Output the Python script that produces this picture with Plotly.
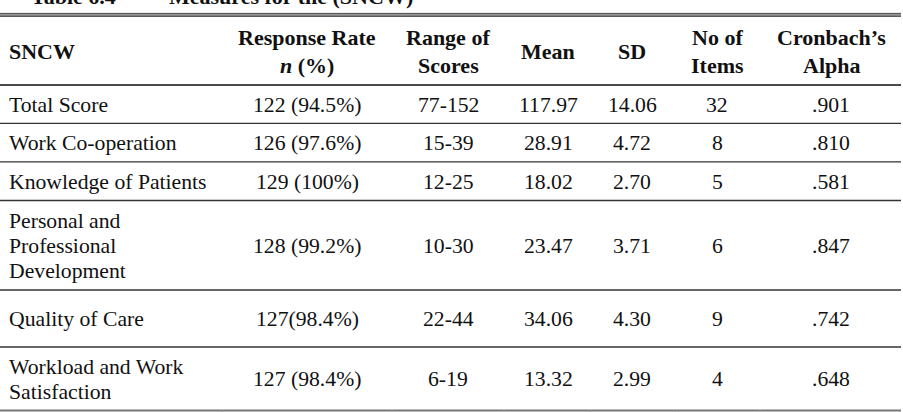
import plotly.graph_objects as go

# ---- data ----
title_left = "Table 6.4"
title_right = "Measures for the (SNCW)"
headers = ["SNCW", "Response Rate\n<i>n</i> (%)", "Range of\nScores", "Mean", "SD", "No of\nItems", "Cronbach’s\nAlpha"]
categories = ["Total Score", "Work Co-operation", "Knowledge of Patients",
              "Personal and\nProfessional\nDevelopment", "Quality of Care",
              "Workload and Work\nSatisfaction"]
response_rate = ["122 (94.5%)", "126 (97.6%)", "129 (100%)", "128 (99.2%)", "127(98.4%)", "127 (98.4%)"]
score_range = ["77-152", "15-39", "12-25", "10-30", "22-44", "6-19"]
mean_vals = ["117.97", "28.91", "18.02", "23.47", "34.06", "13.32"]
sd_vals = ["14.06", "4.72", "2.70", "3.71", "4.30", "2.99"]
n_items = ["32", "8", "5", "6", "9", "4"]
alpha_vals = [".901", ".810", ".581", ".847", ".742", ".648"]

# ---- layout constants ----
W, H = 903, 412
FONT = "Liberation Serif"
FS = 21.7
FS_HEAD = 22
col_x = [7, 307, 448, 548, 632, 717, 831]
header_top, header_bottom = 16.5, 85
row_bounds = [85, 123.3, 161.8, 200.5, 290, 347, 410]
body_ls = 25
head_ls = 28

fig = go.Figure()
shapes = []
annotations = []

def add_text(x, yc, text, ls, bold=False, align="center", size=FS):
    lines = text.split("\n")
    n = len(lines)
    for i, t in enumerate(lines):
        y = yc + (i - (n - 1) / 2) * ls
        annotations.append(dict(
            x=x, y=y, xref="x", yref="y", text=("<b>%s</b>" % t) if bold else t,
            showarrow=False, xanchor="left" if align == "left" else "center",
            yanchor="middle", font=dict(family=FONT, size=size, color="#111111")))

# title (partially clipped at top, as in the reference)
annotations.append(dict(x=29, y=11.5, xref="x", yref="y", text="<b>%s</b>" % title_left,
                        showarrow=False, xanchor="left", yanchor="bottom",
                        font=dict(family=FONT, size=22, color="#111111")))
annotations.append(dict(x=167, y=11.5, xref="x", yref="y", text="<b>%s</b>" % title_right,
                        showarrow=False, xanchor="left", yanchor="bottom",
                        font=dict(family=FONT, size=22, color="#111111")))

# headers
hc = (header_top + header_bottom) / 2 + 0.5
for j, h in enumerate(headers):
    add_text(col_x[j], hc, h, head_ls, bold=True, align="left" if j == 0 else "center",
             size=FS_HEAD)

# body
columns = [categories, response_rate, score_range, mean_vals, sd_vals, n_items, alpha_vals]
for i in range(len(categories)):
    yc = (row_bounds[i] + row_bounds[i + 1]) / 2 + 0.5
    for j, col in enumerate(columns):
        add_text(col_x[j], yc, col[i], body_ls, align="left" if j == 0 else "center")

# top double rule
shapes.append(dict(type="rect", x0=0, x1=901, y0=12.8, y1=17, xref="x", yref="y",
                   fillcolor="#a8a8a8", line=dict(width=0)))
for yy in (13.6, 16.2):
    shapes.append(dict(type="line", x0=0, x1=901, y0=yy, y1=yy, xref="x", yref="y",
                       line=dict(color="#5a5a5a", width=1.4)))
# header / row rules
for k, yy in enumerate(row_bounds[:-1]):
    shapes.append(dict(type="line", x0=0, x1=901, y0=yy, y1=yy, xref="x", yref="y",
                       line=dict(color="#111111" if k == 0 else "#333333", width=1.3)))
# bottom rule
shapes.append(dict(type="line", x0=0, x1=901, y0=410.5, y1=410.5, xref="x", yref="y",
                   line=dict(color="#777777", width=2)))
for xx in (222, 392, 504, 590, 675, 760):
    shapes.append(dict(type="line", x0=xx, x1=xx, y0=410, y1=412, xref="x", yref="y",
                       line=dict(color="#999999", width=1)))

fig.update_layout(
    width=W, height=H, margin=dict(l=0, r=0, t=0, b=0),
    paper_bgcolor="white", plot_bgcolor="white",
    xaxis=dict(range=[0, W], visible=False, fixedrange=True),
    yaxis=dict(range=[H, 0], visible=False, fixedrange=True),
    shapes=shapes, annotations=annotations, showlegend=False,
)
fig.write_html("out.html", config={"displayModeBar": False},
               post_script="document.body.style.margin='0';document.body.style.overflow='hidden';")
